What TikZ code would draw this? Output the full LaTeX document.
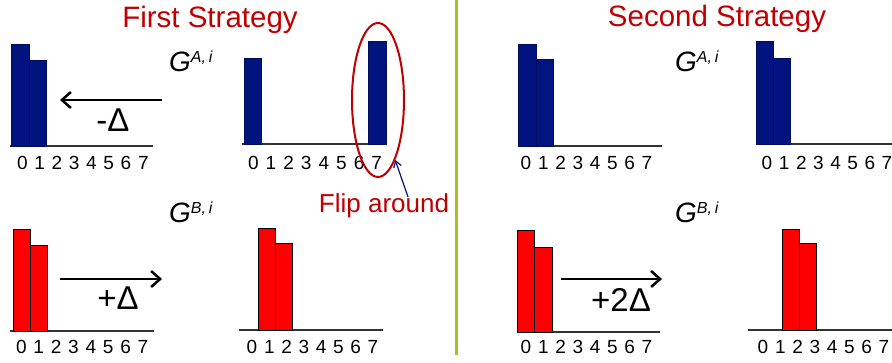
\documentclass[tikz,border=0pt]{standalone}
\usepackage{fontspec}
\setmainfont{Liberation Sans}
\usetikzlibrary{arrows.meta,shapes.geometric}
\definecolor{navybar}{HTML}{00137F}
\definecolor{titlered}{HTML}{C00000}
\definecolor{lime}{HTML}{A9C21F}
\tikzset{abar/.style={fill=navybar,draw=navybar!70!black,line width=0.6pt},
  bbar/.style={fill=red,draw=black,line width=0.9pt},
  axisline/.style={draw=black!80,line width=1.5pt},
  digit/.style={inner sep=0pt,font=\fontsize{19}{19}\selectfont},
  title/.style={inner sep=0pt,anchor=base,text=titlered,font=\fontsize{29.5}{30}\selectfont},
  gname/.style={inner sep=0pt,anchor=base west,font=\fontsize{28}{28}\selectfont\itshape},
  shiftlabel/.style={inner sep=0pt,font=\fontsize{33}{33}\selectfont},
  move/.style={-{Straight Barb[length=9pt,width=16pt]},line width=2.5pt}}
% digits 0..7 under a histogram: name, x of 0, x of 7, y
\newcommand{\digitrow}[4]{%
  \foreach \k in {0,...,7} \node[digit] (#1\k) at ({#2+\k*(#3-#2)/7},#4) {\k};}
\newcommand{\gsup}[1]{\raisebox{9pt}{\fontsize{16}{16}\selectfont #1}}

\begin{document}
\begin{tikzpicture}[x=1pt,y=-1pt]
\useasboundingbox (0,0) rectangle (892,363);
% titles and divider
\node[title] (first) at (210,28) {First Strategy};
\node[title] (second) at (717,27) {Second Strategy};
\draw[lime,line width=3pt] (456,0) -- (456,355);
% first strategy, G^A
\draw[axisline] (10,146) -- (153,146);
\draw[abar] (11,146) rectangle (29,44);
\draw[abar] (29,146) rectangle (46,60);
\digitrow{fa}{22.3}{143.3}{163}
\node[gname] (ga1) at (169,72) {G\gsup{A,\,i}};
\coordinate (fafrom) at (162,100);
\coordinate (fato) at (60,100);
\draw[move] (fafrom) -- (fato);
\node[shiftlabel] (fashift) at (113,120) {-Δ};
\draw[axisline] (242,144) -- (387,144);
\draw[abar] (244,144) rectangle (261,58);
\draw[abar] (368,144) rectangle (386,41);
\digitrow{fr}{253.3}{376.7}{163}
\node[draw=titlered,line width=2pt,ellipse,minimum width=52pt,minimum height=154pt,inner sep=0pt] (flip) at (378,100) {};
\node[title,font=\fontsize{26}{26}\selectfont] (fliptext) at (384,213) {Flip around};
\draw[-{Straight Barb[length=6pt,width=8pt]},navybar,line width=1.2pt]
  ([xshift=24pt,yshift=-3pt]fliptext.north) -- (flip.-74);
% first strategy, G^B
\draw[axisline] (10,331) -- (154,331);
\draw[bbar] (13,331) rectangle (30,229);
\draw[bbar] (30,331) rectangle (47,245);
\digitrow{fb}{21.3}{143}{347}
\node[gname] (gb1) at (169,223) {G\gsup{B,\,i}};
\coordinate (fbfrom) at (60,279);
\coordinate (fbto) at (162,279);
\draw[move] (fbfrom) -- (fbto);
\node[shiftlabel] (fbshift) at (118,298) {+Δ};
\draw[axisline] (239,330) -- (383,330);
\draw[bbar] (258,330) rectangle (275,228);
\draw[bbar] (275,330) rectangle (292,243);
\digitrow{fs}{252}{373}{347}
% second strategy, G^A
\draw[axisline] (518,146) -- (662,146);
\draw[abar] (518,146) rectangle (536,44);
\draw[abar] (536,146) rectangle (553,59);
\digitrow{sa}{526}{647}{163}
\node[gname] (ga2) at (675,72) {G\gsup{A,\,i}};
\draw[axisline] (756,144) -- (892,144);
\draw[abar] (756,144) rectangle (773,41);
\draw[abar] (773,144) rectangle (790,58);
\digitrow{sr}{767}{887}{163}
% second strategy, G^B
\draw[axisline] (517,332) -- (660,332);
\draw[bbar] (517,332) rectangle (534,230);
\draw[bbar] (534,332) rectangle (552,247);
\digitrow{sb}{526}{647}{347}
\node[gname] (gb2) at (675,223) {G\gsup{B,\,i}};
\coordinate (sbfrom) at (561,279);
\coordinate (sbto) at (662,279);
\draw[move] (sbfrom) -- (sbto);
\node[shiftlabel] (sbshift) at (621,300) {+2Δ};
\draw[axisline] (748,330) -- (892,330);
\draw[bbar] (782,330) rectangle (799,229);
\draw[bbar] (799,330) rectangle (816,243);
\digitrow{ss}{763}{884}{347}
\end{tikzpicture}
\end{document}
